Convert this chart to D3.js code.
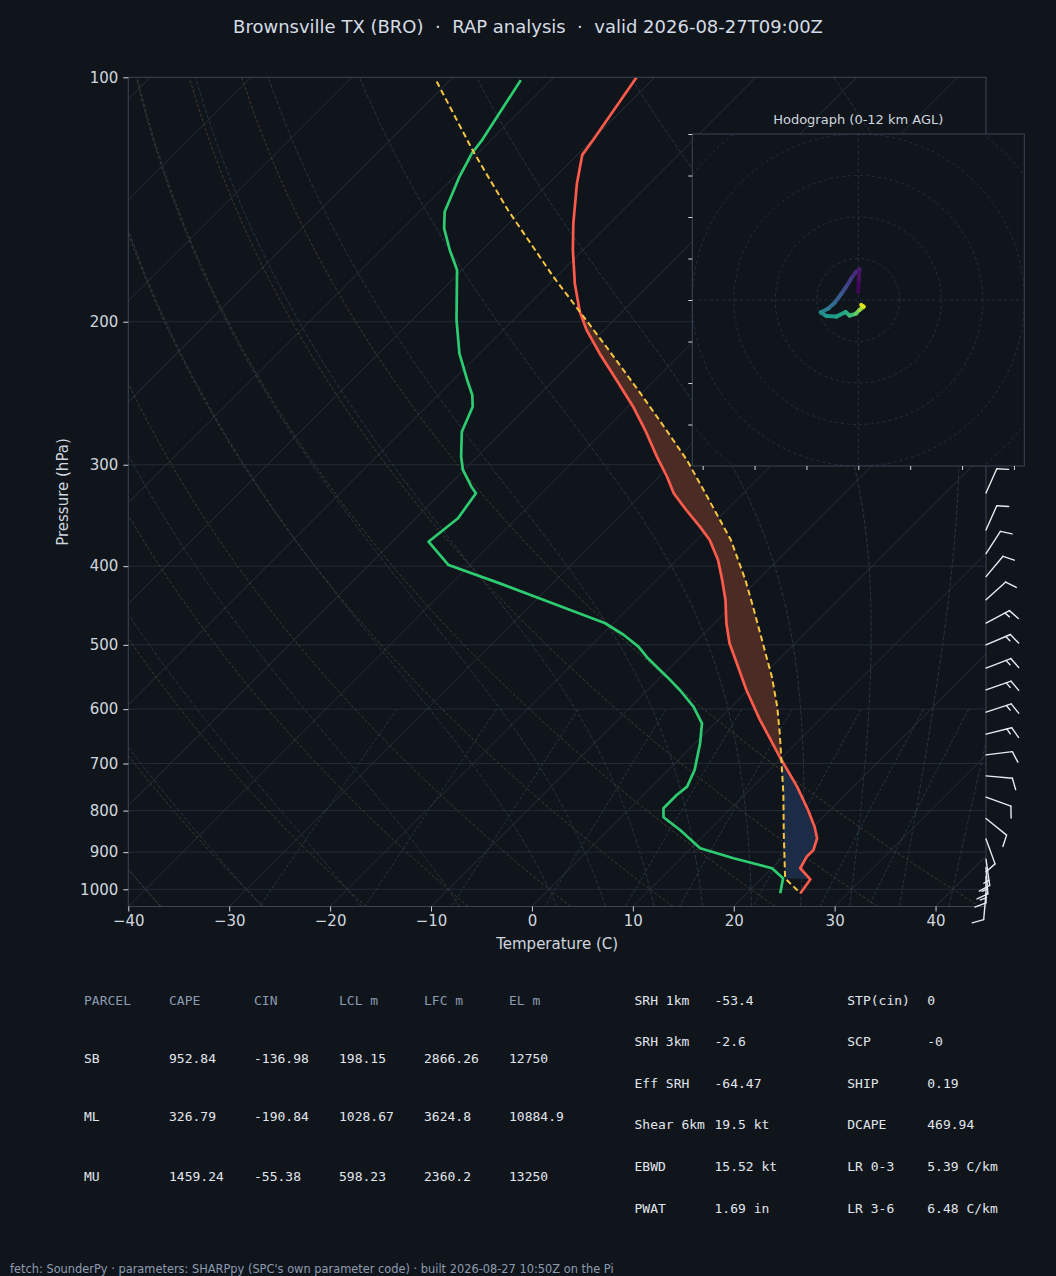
<!DOCTYPE html>
<html>
<head>
<meta charset="utf-8">
<style>
html, body { margin: 0; background: #10151c; }
svg { display: block; }
text { font-family: "DejaVu Sans", sans-serif; }
.mono text { font-family: "DejaVu Sans Mono", monospace; }
</style>
</head>
<body>
<svg id="chart" width="1056" height="1276"></svg>
<script src="https://cdn.jsdelivr.net/npm/d3@7"></script>
<script>
// sounding: [pressure hPa, value C]
const tempProfile = [
  [100, -71.8], [119.4, -69.9], [124.6, -69.5], [135.1, -67.2], [151.3, -63.6], [163.2, -61.0],
  [179.4, -57.5], [194.4, -54.2], [204.8, -51.7], [218.8, -48.1], [235.9, -43.8], [254.5, -39.5],
  [271.9, -36.0], [293.2, -32.2], [310.4, -29.2], [325.3, -26.9], [341.1, -24.0], [357.6, -21.0],
  [371.4, -18.7], [393, -15.9], [416, -13.5], [440.2, -11.2], [470.3, -8.8], [497.8, -6.5],
  [526.8, -3.8], [568.3, -0.2], [618.5, 4.1], [686.6, 9.7], [747.4, 14.4], [798.6, 17.8],
  [837.3, 20.1], [865.3, 21.5], [894.4, 22.3], [911.6, 22.3], [942.1, 22.8], [972.1, 24.9],
  [1011.4, 25.3]
];
const dewProfile = [
  [100.8, -83.0], [119.4, -80.9], [124.0, -80.6], [132.6, -79.5], [146.4, -77.5], [153.5, -75.9],
  [163.2, -73.2], [172.7, -70.5], [199.0, -65.6], [218.8, -62.0], [235.9, -58.6], [246.2, -56.6],
  [254.5, -55.4], [273.2, -54.0], [293.2, -51.6], [304.5, -50.1], [319.3, -47.6], [325.3, -46.5],
  [349.2, -45.8], [373.2, -46.4], [398.7, -42.1], [420, -35.2], [440.2, -29.2], [470.3, -20.8],
  [486.2, -17.8], [502.5, -15.2], [519.4, -13.1], [547.2, -9.4], [568.3, -6.8], [595.7, -3.8],
  [624.6, -1.3], [661.1, 0.5], [713.1, 2.6], [747.4, 3.5], [765.4, 3.3], [794.7, 3.3],
  [815.3, 4.2], [845.2, 7.1], [890.1, 10.9], [915.7, 15.2], [942.1, 20.0], [969.4, 22.1],
  [1011.4, 23.3]
];
const parcelProfile = [
  [101.2, -91.2], [123.5, -80.6], [145.7, -71.4], [176.0, -60.3], [194.4, -54.2], [214.7, -48.1],
  [245.0, -40.1], [271.9, -33.9], [296.0, -28.9], [316.2, -25.3], [371.4, -16.6], [416.0, -11.2],
  [448.7, -7.8], [497.8, -3.2], [547.2, 1.0], [595.7, 4.5], [642.6, 7.4], [693, 10.2],
  [761.7, 13.7], [853.1, 17.7], [969.4, 22.3], [1011.4, 25.3]
];
const elP = 194.4, lfcP = 693, lclP = 969.4;

const pressureTicks = [100, 200, 300, 400, 500, 600, 700, 800, 900, 1000];
const tempTicks = [-40, -30, -20, -10, 0, 10, 20, 30, 40];

const barbP = [325, 361, 386, 412, 440, 470, 500, 534, 568, 605, 644, 683, 725, 770, 818, 867, 918, 940, 964, 1011];
const barbDir = [24, 24, 33, 40, 48, 62, 67, 69, 71, 72, 76, 83, 95, 110, 129, 160, 172, 176, 180, 185];
const barbSpd = [10, 10, 10, 10, 10, 15, 15, 15, 15, 15, 15, 10, 10, 10, 10, 10, 15, 15, 15, 10];

// hodograph trace (kt) and height (km)
const hodoU = [0, 0.2, 0.6, -1.3, -3.4, -5.8, -8.2, -11.4, -14.6, -18.1, -15.4, -10.6, -6.1, -4.2, -1.3, 0.6, 2.6, 1.4];
const hodoV = [4.0, 9.6, 14.8, 13.3, 10.4, 6.4, 2.9, -1.3, -4.2, -5.9, -7.7, -8.0, -5.8, -7.5, -6.7, -4.8, -3.2, -2.4];
const hodoH = [0, 0.4, 0.7, 1.2, 1.8, 2.4, 3.1, 3.8, 4.6, 5.5, 6.2, 6.7, 7.2, 7.9, 8.6, 9.6, 10.8, 12];

const parcelHead = ['PARCEL', 'CAPE', 'CIN', 'LCL m', 'LFC m', 'EL m'];
const parcelRows = [
  ['SB', '952.84', '-136.98', '198.15', '2866.26', '12750'],
  ['ML', '326.79', '-190.84', '1028.67', '3624.8', '10884.9'],
  ['MU', '1459.24', '-55.38', '598.23', '2360.2', '13250']
];
const indexRows = [
  ['SRH 1km', '-53.4', 'STP(cin)', '0'],
  ['SRH 3km', '-2.6', 'SCP', '-0'],
  ['Eff SRH', '-64.47', 'SHIP', '0.19'],
  ['Shear 6km', '19.5 kt', 'DCAPE', '469.94'],
  ['EBWD', '15.52 kt', 'LR 0-3', '5.39 C/km'],
  ['PWAT', '1.69 in', 'LR 3-6', '6.48 C/km']
];

const titleText = 'Brownsville TX (BRO)  \u00b7  RAP analysis  \u00b7  valid 2026-08-27T09:00Z';
const footText = "fetch: SounderPy \u00b7 parameters: SHARPpy (SPC's own parameter code) \u00b7 built 2026-08-27 10:50Z on the Pi";

const bg = '#10151c', frame = '#3a4454', tickTxt = '#cfd6df';
const plot = {left: 128.3, right: 986, top: 77.3, bottom: 906.5};

const svg = d3.select('#chart');
svg.append('rect').attr('width', 1056).attr('height', 1276).attr('fill', bg);

const x = d3.scaleLinear().domain([-40, 45]).range([plot.left, plot.right]);
const y = d3.scaleLog().domain([1050, 100]).range([plot.bottom, plot.top]);
// 45 degree skew in screen space
const skewX = (t, p) => x(t) + (plot.bottom - y(p));

svg.append('clipPath').attr('id', 'plotClip')
  .append('rect').attr('x', plot.left).attr('y', plot.top)
  .attr('width', plot.right - plot.left).attr('height', plot.bottom - plot.top);

const g = svg.append('g').attr('clip-path', 'url(#plotClip)');
const line = d3.line().x(d => skewX(d[1], d[0])).y(d => y(d[0]));

// isobars
g.selectAll('.isobar').data(pressureTicks).join('line')
  .attr('x1', plot.left).attr('x2', plot.right)
  .attr('y1', d => y(d)).attr('y2', d => y(d))
  .attr('stroke', '#252e39').attr('stroke-width', 0.9);

// isotherms
g.selectAll('.isotherm').data(d3.range(-130, 50, 10)).join('line')
  .attr('x1', d => skewX(d, 1050)).attr('y1', y(1050))
  .attr('x2', d => skewX(d, 100)).attr('y2', y(100))
  .attr('stroke', '#2a323d').attr('stroke-width', 0.9);

// dry adiabats
const pLevels = d3.range(1050, 99, -10);
d3.range(-40, 46, 10).forEach(t0 => {
  const pts = pLevels.map(p => [p, (t0 + 273.15) * Math.pow(p / 1000, 0.2857) - 273.15]);
  g.append('path').attr('d', line(pts)).attr('fill', 'none')
    .attr('stroke', '#524230').attr('stroke-width', 0.8).attr('stroke-dasharray', '3,2');
});

// moist adiabats
function moistAdiabat(t0) {
  const Rd = 287.04, Cp = 1005.7, Lv = 2.501e6, eps = 0.622;
  const f = (p, T) => {
    const tc = T - 273.15;
    const es = 6.112 * Math.exp(17.67 * tc / (tc + 243.5));
    const rs = eps * es / (p - es);
    return (Rd * T + Lv * rs) / (Cp + Lv * Lv * rs * eps / (Rd * T * T)) / p;
  };
  const step = (p, T, h) => {
    const k1 = f(p, T), k2 = f(p + h / 2, T + h * k1 / 2);
    const k3 = f(p + h / 2, T + h * k2 / 2), k4 = f(p + h, T + h * k3);
    return T + h * (k1 + 2 * k2 + 2 * k3 + k4) / 6;
  };
  const up = [];
  let T = t0 + 273.15;
  for (let p = 1000; p > 100; p -= 5) { up.push([p, T]); T = step(p, T, -5); }
  up.push([100, T]);
  const down = [];
  T = t0 + 273.15;
  for (let p = 1000; p < 1050; p += 5) { T = step(p, T, 5); down.push([p + 5, T]); }
  return down.reverse().concat(up).map(d => [d[0], d[1] - 273.15]);
}
d3.range(-40, 0, 10).concat(d3.range(0, 46, 5)).forEach(t0 => {
  g.append('path').attr('d', line(moistAdiabat(t0))).attr('fill', 'none')
    .attr('stroke', '#2f3e4b').attr('stroke-width', 0.8).attr('stroke-dasharray', '4,2');
});

// mixing ratio lines
[0.0004, 0.001, 0.002, 0.004, 0.007, 0.01, 0.016, 0.024, 0.032].forEach(w => {
  const pts = d3.range(600, 1051, 10).map(p => {
    const e = p * w / (0.622 + w), l = Math.log(e / 6.112);
    return [p, 243.5 * l / (17.67 - l)];
  });
  g.append('path').attr('d', line(pts)).attr('fill', 'none')
    .attr('stroke', '#29424d').attr('stroke-width', 0.8).attr('stroke-dasharray', '3,2');
});

// CAPE and CIN shading
const inRange = (arr, lo, hi) => arr.filter(d => d[0] >= lo && d[0] <= hi);
const capePoly = inRange(parcelProfile, elP, lfcP).concat(inRange(tempProfile, elP, lfcP).reverse());
const cinPoly = inRange(parcelProfile, lfcP, lclP).concat(inRange(tempProfile, lfcP, 973).reverse());
const area = d3.line().x(d => skewX(d[1], d[0])).y(d => y(d[0]));
g.append('path').attr('d', area(capePoly) + 'Z').attr('fill', '#4a2c24');
g.append('path').attr('d', area(cinPoly) + 'Z').attr('fill', '#1c2c46');

g.append('path').attr('d', line(tempProfile)).attr('fill', 'none')
  .attr('stroke', '#ff5a4a').attr('stroke-width', 2.7).attr('stroke-linejoin', 'round');
g.append('path').attr('d', line(dewProfile)).attr('fill', 'none')
  .attr('stroke', '#2ecc71').attr('stroke-width', 2.7).attr('stroke-linejoin', 'round');
g.append('path').attr('d', line(parcelProfile)).attr('fill', 'none')
  .attr('stroke', '#f5c542').attr('stroke-width', 2).attr('stroke-dasharray', '6,3.5');

// frame
svg.append('rect').attr('x', plot.left).attr('y', plot.top)
  .attr('width', plot.right - plot.left).attr('height', plot.bottom - plot.top)
  .attr('fill', 'none').attr('stroke', frame).attr('stroke-width', 1);

// axes
const yAxis = svg.append('g').attr('transform', `translate(${plot.left},0)`)
  .call(d3.axisLeft(y).tickValues(pressureTicks).tickFormat(d3.format('d')).tickSize(5).tickPadding(5));
const xAxis = svg.append('g').attr('transform', `translate(0,${plot.bottom})`)
  .call(d3.axisBottom(x).tickValues(tempTicks).tickSize(5).tickPadding(4));
[yAxis, xAxis].forEach(a => {
  a.select('.domain').remove();
  a.selectAll('.tick line').attr('stroke', tickTxt);
  a.selectAll('.tick text').attr('fill', tickTxt).style('font-size', '15px')
    .style('font-family', '"DejaVu Sans", sans-serif');
});

svg.append('text').attr('x', (plot.left + plot.right) / 2).attr('y', 949)
  .attr('text-anchor', 'middle').attr('fill', tickTxt).style('font-size', '15px').text('Temperature (C)');
svg.append('text').attr('transform', 'translate(68,492) rotate(-90)')
  .attr('text-anchor', 'middle').attr('fill', tickTxt).style('font-size', '15px').text('Pressure (hPa)');

// wind barbs on the right edge
function drawBarb(bx, by, dir, spd) {
  const L = 26.5, r = dir * Math.PI / 180;
  const ax = Math.sin(r), ay = -Math.cos(r);
  const px = -ay, py = ax;
  const tx = bx + L * ax, ty = by + L * ay;
  const bg2 = svg.append('g').attr('stroke', '#e6ebf0').attr('stroke-width', 1.4)
    .attr('stroke-linecap', 'round').attr('fill', 'none');
  bg2.append('line').attr('x1', bx).attr('y1', by).attr('x2', tx).attr('y2', ty);
  let full = Math.floor(spd / 10), half = (spd % 10) >= 5 ? 1 : 0, pos = 0;
  const tick = (k) => {
    const sx = tx - pos * ax, sy = ty - pos * ay;
    bg2.append('line').attr('x1', sx).attr('y1', sy)
      .attr('x2', sx + k * (0.42 * L * px + 0.16 * L * ax))
      .attr('y2', sy + k * (0.42 * L * py + 0.16 * L * ay));
    pos += 0.19 * L;
  };
  for (let i = 0; i < full; i++) tick(1);
  if (half) tick(0.5);
}
barbP.forEach((p, i) => drawBarb(plot.right, y(p), barbDir[i], barbSpd[i]));

// hodograph inset
const hx = d3.scaleLinear().domain([-80, 80]).range([692.3, 1024.3]);
const hy = d3.scaleLinear().domain([-80, 80]).range([466, 134]);
svg.append('clipPath').attr('id', 'hodoClip').append('rect')
  .attr('x', hx(-80)).attr('y', hy(80)).attr('width', hx(80) - hx(-80)).attr('height', hy(-80) - hy(80));
svg.append('rect').attr('x', hx(-80)).attr('y', hy(80))
  .attr('width', hx(80) - hx(-80)).attr('height', hy(-80) - hy(80)).attr('fill', bg);
const hg = svg.append('g').attr('clip-path', 'url(#hodoClip)');
hg.selectAll('circle').data([20, 40, 60, 80, 100, 120]).join('circle')
  .attr('cx', hx(0)).attr('cy', hy(0)).attr('r', d => hx(d) - hx(0))
  .attr('fill', 'none').attr('stroke', '#2c3644').attr('stroke-width', 0.8).attr('stroke-dasharray', '3,3');
hg.append('line').attr('x1', hx(-80)).attr('x2', hx(80)).attr('y1', hy(0)).attr('y2', hy(0))
  .attr('stroke', '#2c3644').attr('stroke-width', 0.8).attr('stroke-dasharray', '3,3');
hg.append('line').attr('x1', hx(0)).attr('x2', hx(0)).attr('y1', hy(-80)).attr('y2', hy(80))
  .attr('stroke', '#2c3644').attr('stroke-width', 0.8).attr('stroke-dasharray', '3,3');
const hodoPts = hodoU.map((u, i) => [u, hodoV[i], hodoH[i]]);
for (let i = 0; i < hodoPts.length - 1; i++) {
  const a = hodoPts[i], b = hodoPts[i + 1];
  hg.append('line').attr('x1', hx(a[0])).attr('y1', hy(a[1])).attr('x2', hx(b[0])).attr('y2', hy(b[1]))
    .attr('stroke', d3.interpolateViridis((a[2] + b[2]) / 24)).attr('stroke-width', 4)
    .attr('stroke-linecap', 'round');
}
svg.append('rect').attr('x', hx(-80)).attr('y', hy(80))
  .attr('width', hx(80) - hx(-80)).attr('height', hy(-80) - hy(80))
  .attr('fill', 'none').attr('stroke', frame).attr('stroke-width', 1);
const hLeft = svg.append('g').attr('transform', `translate(${hx(-80)},0)`)
  .call(d3.axisLeft(hy).tickValues(d3.range(-60, 81, 20)).tickSize(4).tickFormat(''));
const hBottom = svg.append('g').attr('transform', `translate(0,${hy(-80)})`)
  .call(d3.axisBottom(hx).tickValues(d3.range(-75, 76, 25)).tickSize(4).tickFormat(''));
[hLeft, hBottom].forEach(a => {
  a.select('.domain').remove();
  a.selectAll('.tick line').attr('stroke', tickTxt);
});
svg.append('text').attr('x', hx(0)).attr('y', 124).attr('text-anchor', 'middle')
  .attr('fill', tickTxt).style('font-size', '13px').text('Hodograph (0-12 km AGL)');

// title and footer
svg.append('text').attr('x', 528).attr('y', 33).attr('text-anchor', 'middle')
  .attr('fill', '#d5dce5').style('font-size', '18px').style('white-space', 'pre').text(titleText);
svg.append('text').attr('x', 10).attr('y', 1273).attr('fill', '#8d9bb0')
  .style('font-size', '11.4px').text(footText);

// parameter tables
const colX = [84, 169, 254, 339, 424, 509];
const rowY = [1000, 1058.3, 1116.7, 1176];
const tbl = svg.append('g').attr('class', 'mono').style('font-size', '13px');
parcelHead.forEach((h, j) => tbl.append('text').attr('x', colX[j]).attr('y', rowY[0] + 4.6)
  .attr('fill', '#8b9bb0').style('white-space', 'pre').text(h));
parcelRows.forEach((row, i) => row.forEach((v, j) => tbl.append('text')
  .attr('x', colX[j]).attr('y', rowY[i + 1] + 4.6).attr('fill', '#e1e6ec').text(v)));

const idxX = [634.5, 714.5, 847.3, 927.3];
indexRows.forEach((row, i) => row.forEach((v, j) => tbl.append('text')
  .attr('x', idxX[j]).attr('y', 1000 + i * 41.6 + 4.6).attr('fill', '#e1e6ec')
  .style('white-space', 'pre').text(v)));
</script>
</body>
</html>
